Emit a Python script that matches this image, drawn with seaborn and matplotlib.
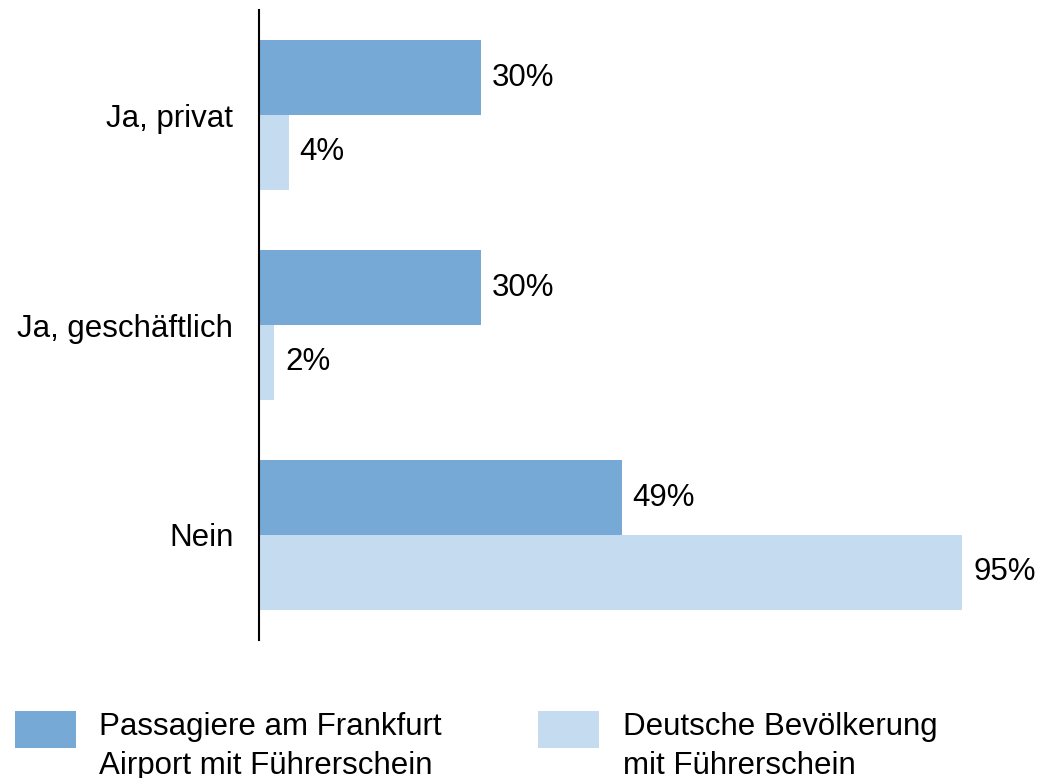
import matplotlib
matplotlib.use('Agg')
import matplotlib.pyplot as plt
from matplotlib.patches import Rectangle
from matplotlib.legend_handler import HandlerPatch
import seaborn as sns
import pandas as pd

# categories and values (percent)
antworten = ["Ja, privat", "Ja, geschäftlich", "Nein"]
gruppen = ["Passagiere am Frankfurt\nAirport mit Führerschein",
           "Deutsche Bevölkerung\nmit Führerschein"]
passagiere = [30, 30, 49]
bevoelkerung = [4, 2, 95]
farben = ["#77A9D7", "#C5DBEF"]

df = pd.DataFrame({
    "Antwort": antworten * 2,
    "Anteil": passagiere + bevoelkerung,
    "Gruppe": [gruppen[0]] * 3 + [gruppen[1]] * 3,
})

sns.set_style("white")
plt.rcParams['font.family'] = ['Liberation Sans', 'DejaVu Sans']
plt.rcParams['text.color'] = 'black'
plt.rcParams['ytick.labelcolor'] = 'black'

fig = plt.figure(figsize=(10.47, 7.78), dpi=100)
ax = fig.add_axes([259 / 1047, 138 / 778, 740 / 1047, 630 / 778])

sns.barplot(data=df, y="Antwort", x="Anteil", hue="Gruppe", orient="h",
            palette=farben, width=0.714, saturation=1, ax=ax, linewidth=0)

for c in ax.containers:
    ax.bar_label(c, fmt='%d%%', padding=8, fontsize=22.5, color='black')

ax.set_xlim(0, 100)
ax.set_ylim(2.5, -0.5)
ax.set_xlabel("")
ax.set_ylabel("")
ax.set_xticks([])
ax.tick_params(axis='y', length=0, pad=18.5, labelsize=22.5, labelcolor='black')
for s in ["top", "right", "bottom"]:
    ax.spines[s].set_visible(False)
ax.spines["left"].set_color("black")
ax.spines["left"].set_linewidth(1.5)


# legend squares sit level with the first text line
def square(legend, orig_handle, xdescent, ydescent, width, height, fontsize):
    return Rectangle((-xdescent, -ydescent + 13), width, height)


handles, labels = ax.get_legend_handles_labels()
ax.get_legend().remove()
leg = fig.legend(handles, labels, loc="upper left", bbox_to_anchor=(15 / 1047, 1 - 712 / 778),
                 ncol=2, frameon=False, fontsize=22.5, handlelength=1.95, handleheight=1.45,
                 handletextpad=0.75, columnspacing=3.08, borderpad=0, borderaxespad=0,
                 handler_map={Rectangle: HandlerPatch(patch_func=square)})
for t in leg.get_texts():
    t.set_linespacing(1.38)

plt.savefig("out.png", dpi=100)
